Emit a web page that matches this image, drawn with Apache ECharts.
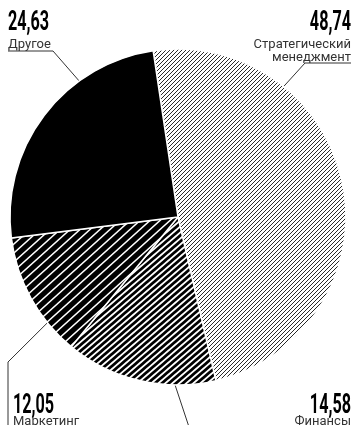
<!DOCTYPE html>
<html>
<head>
<meta charset="utf-8">
<script src="https://cdn.jsdelivr.net/npm/echarts@6/dist/echarts.min.js"></script>
<style>
  html, body { margin: 0; padding: 0; background: #fff; }
  #chart { width: 355px; height: 425px; }
</style>
</head>
<body>
<div id="chart"></div>
<script>
// Shares of study areas, percent
const names = ['Стратегический\nменеджмент', 'Финансы', 'Маркетинг', 'Другое'];
const values = [48.74, 14.58, 12.05, 24.63];

// Pie geometry (px)
const CX = 178, CY = 217, R = 168;
const START = 98.5;

// Label placement per slice: value/name anchors, alignment and leader path
const labelPlaces = [
  { x: 351, vy: 10,  ny: 38,  align: 'right', rimDeg: 39,  bend: [305, 63], tail: [351, 63] },
  { x: 351, vy: 393, ny: 415, align: 'right', rimDeg: 181, bend: [190, 430], tail: null },
  { x: 13,  vy: 393, ny: 415, align: 'left',  rimDeg: 231, bend: [8, 362], tail: [8, 430] },
  { x: 8,   vy: 10,  ny: 38,  align: 'left',  rimDeg: 324, bend: [53, 51], tail: [8, 51] }
];

// Diagonal stripe tile used as a fill pattern
function stripes(w, h, lw, fg, bg) {
  const c = document.createElement('canvas');
  c.width = w; c.height = h;
  const g = c.getContext('2d');
  g.fillStyle = bg; g.fillRect(0, 0, w, h);
  g.strokeStyle = fg; g.lineWidth = lw;
  for (const dx of [-w, 0, w]) {
    g.beginPath();
    g.moveTo(dx - w, 2 * h);
    g.lineTo(dx + 2 * w, -h);
    g.stroke();
  }
  return c;
}

const fills = [
  { image: stripes(4, 4, 1, '#2a2a2a', '#ffffff'), repeat: 'repeat' },
  { image: stripes(7, 6, 2.8, '#000000', '#ffffff'), repeat: 'repeat' },
  { image: stripes(10, 9, 5.2, '#000000', '#ffffff'), repeat: 'repeat' },
  '#000000'
];

function rimPoint(deg) {
  // degrees clockwise from 12 o'clock
  const a = deg * Math.PI / 180;
  return [CX + R * Math.sin(a), CY - R * Math.cos(a)];
}

const fmt = v => v.toFixed(2).replace('.', ',');

// Condensed bold value captions above each name
const valueTexts = values.map((v, i) => {
  const L = labelPlaces[i];
  return {
    type: 'text',
    x: L.x,
    y: L.vy,
    scaleX: 0.6,
    silent: true,
    style: {
      text: fmt(v),
      fontFamily: 'Roboto, "Noto Sans", sans-serif',
      fontWeight: 'bold',
      fontSize: 27,
      fill: '#000',
      align: L.align,
      verticalAlign: 'top'
    }
  };
});

const chart = echarts.init(document.getElementById('chart'), null, { renderer: 'canvas' });
chart.setOption({
  animation: false,
  graphic: valueTexts,
  series: [{
    type: 'pie',
    center: [CX, CY],
    radius: [0, R],
    startAngle: START,
    clockwise: true,
    avoidLabelOverlap: false,
    silent: true,
    itemStyle: { borderColor: '#ffffff', borderWidth: 1.5 },
    label: {
      show: true,
      position: 'outer',
      fontFamily: 'Roboto, "Noto Sans", sans-serif',
      fontSize: 13,
      lineHeight: 13,
      color: '#333',
      formatter: p => p.name
    },
    labelLine: { show: true, lineStyle: { color: '#333', width: 1 } },
    labelLayout: params => {
      const L = labelPlaces[params.dataIndex];
      const pts = [rimPoint(L.rimDeg), L.bend];
      if (L.tail) pts.push(L.tail);
      return {
        x: L.x, y: L.ny, align: L.align, verticalAlign: 'top',
        labelLinePoints: pts
      };
    },
    data: names.map((n, i) => ({ name: n, value: values[i], itemStyle: { color: fills[i] } }))
  }]
});
</script>
</body>
</html>
